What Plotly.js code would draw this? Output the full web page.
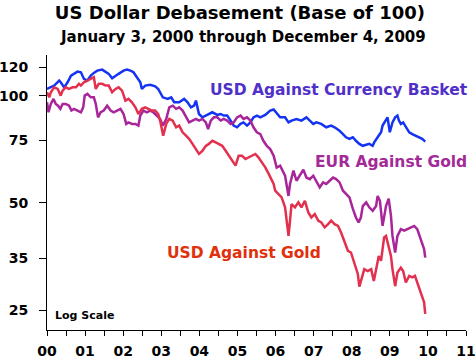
<!DOCTYPE html>
<html><head><meta charset="utf-8">
<script src="https://cdn.plot.ly/plotly-3.0.1.min.js"></script>
<style>html,body{margin:0;padding:0;background:#fff}</style>
</head><body><div id="chart" style="width:476px;height:360px"></div>
<script>
// Dates as decimal years
const basketX = [2000.00,2000.10,2000.19,2000.32,2000.36,2000.45,2000.54,2000.63,2000.71,2000.80,2000.89,2000.97,2001.06,2001.15,2001.23,2001.32,2001.45,2001.54,2001.62,2001.71,2001.80,2001.88,2002.01,2002.10,2002.19,2002.27,2002.36,2002.45,2002.49,2002.58,2002.71,2002.84,2002.92,2003.01,2003.04,2003.17,2003.26,2003.34,2003.47,2003.60,2003.69,2003.78,2003.86,2003.91,2003.99,2004.08,2004.17,2004.25,2004.34,2004.47,2004.56,2004.64,2004.73,2004.82,2004.90,2004.99,2005.08,2005.16,2005.25,2005.34,2005.42,2005.51,2005.60,2005.73,2005.86,2005.95,2006.06,2006.12,2006.25,2006.34,2006.42,2006.55,2006.68,2006.81,2006.90,2006.99,2007.07,2007.20,2007.33,2007.46,2007.55,2007.68,2007.77,2007.85,2007.94,2008.03,2008.11,2008.20,2008.29,2008.38,2008.46,2008.55,2008.59,2008.68,2008.77,2008.81,2008.90,2008.94,2009.00,2009.07,2009.14,2009.20,2009.24,2009.29,2009.35,2009.42,2009.51,2009.59,2009.68,2009.77,2009.85,2009.93];
const basketY = [104.4,105.5,106.7,110.2,109.0,105.5,109.0,113.8,115.1,116.8,116.3,111.4,110.2,113.8,115.8,117.5,118.3,116.8,115.1,111.8,113.8,115.1,117.5,118.3,117.5,116.3,112.6,109.0,104.4,106.7,107.2,106.2,104.4,100.5,98.9,97.9,98.9,95.8,95.8,97.9,95.8,92.7,93.7,96.8,88.8,86.9,87.9,88.8,89.8,88.3,88.8,87.9,87.9,85.1,82.4,81.5,83.3,84.1,82.4,84.1,86.9,87.9,86.9,88.3,90.8,91.4,88.8,86.9,86.9,84.1,85.1,86.0,85.1,86.9,85.1,83.3,84.1,83.3,81.5,82.4,81.5,79.7,78.0,76.4,75.6,76.4,74.7,73.2,72.3,72.7,73.2,72.3,73.9,76.4,78.9,82.4,86.0,86.9,78.9,84.1,86.9,87.9,85.1,83.3,84.1,81.5,78.9,78.0,77.2,76.4,75.6,74.3];

const eurX = [2000.00,2000.04,2000.10,2000.17,2000.23,2000.29,2000.35,2000.41,2000.49,2000.58,2000.64,2000.71,2000.80,2000.89,2000.95,2000.99,2001.06,2001.15,2001.23,2001.28,2001.34,2001.41,2001.49,2001.58,2001.67,2001.75,2001.84,2001.93,2002.01,2002.08,2002.14,2002.23,2002.32,2002.40,2002.45,2002.53,2002.62,2002.71,2002.79,2002.88,2002.97,2003.04,2003.13,2003.21,2003.30,2003.39,2003.47,2003.56,2003.65,2003.73,2003.82,2003.91,2003.99,2004.08,2004.17,2004.23,2004.30,2004.38,2004.47,2004.56,2004.64,2004.73,2004.82,2004.90,2004.99,2005.08,2005.16,2005.25,2005.34,2005.42,2005.51,2005.60,2005.68,2005.77,2005.86,2005.95,2006.03,2006.12,2006.25,2006.34,2006.38,2006.47,2006.55,2006.64,2006.73,2006.81,2006.90,2006.99,2007.07,2007.16,2007.25,2007.33,2007.42,2007.51,2007.59,2007.68,2007.77,2007.85,2007.94,2008.03,2008.11,2008.18,2008.24,2008.29,2008.38,2008.46,2008.55,2008.64,2008.68,2008.74,2008.81,2008.90,2008.97,2009.03,2009.07,2009.14,2009.20,2009.29,2009.38,2009.46,2009.55,2009.64,2009.72,2009.78,2009.85,2009.90,2009.93];
const eurY = [95.8,89.8,94.8,97.9,94.8,93.7,91.8,94.8,94.8,93.7,90.8,91.8,90.8,89.8,92.7,100.0,101.1,98.9,98.9,94.8,86.9,89.8,90.8,93.7,90.8,89.8,90.8,91.8,88.8,83.3,84.1,83.3,83.3,82.4,87.9,90.8,89.8,90.8,89.8,87.9,86.0,82.4,86.0,92.7,93.7,91.8,92.7,90.8,86.9,84.1,85.1,86.0,85.1,86.0,84.1,80.6,85.1,86.9,86.9,85.1,86.0,85.1,83.3,84.1,86.9,87.9,86.0,86.9,85.1,81.5,78.9,78.0,74.7,72.3,70.8,67.8,62.8,63.6,59.6,52.3,56.5,61.6,57.7,59.6,62.0,58.9,58.3,59.6,57.7,55.3,57.1,56.5,57.7,58.9,58.3,57.1,54.1,52.9,51.8,48.1,45.5,44.1,45.5,49.0,50.2,48.6,47.5,49.0,52.3,50.7,43.1,49.0,51.4,46.0,40.4,36.3,40.4,42.2,41.8,42.2,42.7,43.1,42.2,40.4,38.7,37.1,35.1];

const goldX = [2000.00,2000.06,2000.10,2000.19,2000.28,2000.36,2000.41,2000.49,2000.58,2000.67,2000.76,2000.84,2000.89,2000.97,2001.06,2001.15,2001.23,2001.28,2001.36,2001.45,2001.54,2001.62,2001.71,2001.80,2001.88,2001.97,2002.06,2002.14,2002.23,2002.32,2002.40,2002.49,2002.58,2002.66,2002.75,2002.84,2002.92,2002.98,2003.05,2003.13,2003.21,2003.30,2003.39,2003.47,2003.56,2003.65,2003.73,2003.82,2003.91,2003.99,2004.08,2004.17,2004.25,2004.34,2004.43,2004.51,2004.60,2004.69,2004.77,2004.86,2004.95,2005.03,2005.12,2005.21,2005.29,2005.38,2005.47,2005.55,2005.64,2005.73,2005.82,2005.95,2005.99,2006.08,2006.16,2006.25,2006.34,2006.38,2006.42,2006.51,2006.60,2006.68,2006.77,2006.86,2006.94,2007.03,2007.12,2007.20,2007.29,2007.38,2007.46,2007.55,2007.64,2007.72,2007.81,2007.90,2007.98,2008.07,2008.16,2008.20,2008.27,2008.33,2008.42,2008.51,2008.58,2008.64,2008.71,2008.77,2008.85,2008.90,2008.97,2009.03,2009.07,2009.14,2009.20,2009.29,2009.35,2009.42,2009.51,2009.59,2009.66,2009.72,2009.78,2009.83,2009.90,2009.93];
const goldY = [102.2,98.9,102.2,105.5,104.4,100.0,103.3,105.5,104.4,105.5,105.5,107.9,106.7,109.0,110.2,111.4,112.6,104.4,107.9,107.9,106.7,106.7,102.2,104.4,105.5,103.3,96.8,97.9,95.8,92.7,88.8,91.8,92.7,91.8,90.8,90.8,88.8,84.1,77.2,83.3,86.0,85.1,81.5,82.4,78.9,77.2,75.6,73.2,70.8,68.6,70.0,72.3,73.2,74.7,73.9,73.2,72.3,70.0,67.8,65.6,63.6,67.8,67.8,66.4,67.1,67.8,68.6,67.1,64.9,62.9,60.3,56.5,54.1,52.9,51.8,48.6,40.4,44.6,49.6,48.6,50.2,48.6,50.7,47.0,45.5,46.5,44.6,44.1,42.7,43.6,44.6,43.6,43.1,41.3,38.7,36.7,36.3,33.7,31.6,29.1,30.9,32.6,32.2,32.6,30.2,32.9,35.5,34.4,40.0,40.4,37.5,35.5,32.6,29.2,31.9,32.9,32.2,29.9,31.2,30.9,31.2,29.9,28.6,28.0,26.3,24.4];

const xTickVals = [2000,2000.5,2001,2001.5,2002,2002.5,2003,2003.5,2004,2004.5,2005,2005.5,2006,2006.5,2007,2007.5,2008,2008.5,2009,2009.5,2010,2010.5,2011];
const xTickText = ['00','','01','','02','','03','','04','','05','','06','','07','','08','','09','','10','','11'];
const yTickVals = [25,35,50,75,100,120];
const yTickText = ['25','35','50','75','100','120'];

const F = 'DejaVu Sans';
const traces = [
  {x: basketX, y: basketY, type:'scatter', mode:'lines', line:{color:'#1433f2', width:2.5}, name:'USD Against Currency Basket'},
  {x: eurX, y: eurY, type:'scatter', mode:'lines', line:{color:'#a8259a', width:2.5}, name:'EUR Against Gold'},
  {x: goldX, y: goldY, type:'scatter', mode:'lines', line:{color:'#e2304e', width:2.5}, name:'USD Against Gold'}
];
const layout = {
  width:476, height:360,
  margin:{l:47, r:10, t:55, b:30},
  paper_bgcolor:'#fff', plot_bgcolor:'#fff',
  showlegend:false,
  title:{text:'US Dollar Debasement (Base of 100)', font:{family:F, size:18, weight:'bold', color:'#000'}, x:0.504, xanchor:'center', y:0.966, yanchor:'middle'},
  xaxis:{range:[2000,2011], tickmode:'array', tickvals:xTickVals, ticktext:xTickText, ticks:'outside', ticklen:5, tickcolor:'#000', tickwidth:1,
    showline:true, linecolor:'#000', linewidth:1, showgrid:false, zeroline:false, ticklabelstandoff:3, ticklabeloverflow:'allow',
    tickfont:{family:F, size:14, weight:'bold', color:'#000'}},
  yaxis:{type:'log', range:[Math.log10(22), Math.log10(130)], tickmode:'array', tickvals:yTickVals, ticktext:yTickText, ticks:'outside', ticklen:7, tickcolor:'#000', tickwidth:1,
    showline:true, linecolor:'#000', linewidth:1, showgrid:false, zeroline:false, ticklabelstandoff:8,
    tickfont:{family:F, size:14, weight:'bold', color:'#000'}},
  annotations:[
    {text:'January 3, 2000 through December 4, 2009', xref:'paper', yref:'paper', x:0.468, y:1.065, xanchor:'center', yanchor:'middle', showarrow:false, font:{family:F, size:15, weight:'bold', color:'#000'}},
    {text:'USD Against Currency Basket', xref:'paper', yref:'paper', x:0.698, y:0.874, xanchor:'center', yanchor:'middle', showarrow:false, font:{family:F, size:15.5, weight:'bold', color:'#5030c8'}},
    {text:'EUR Against Gold', xref:'paper', yref:'paper', x:0.821, y:0.611, xanchor:'center', yanchor:'middle', showarrow:false, font:{family:F, size:15.5, weight:'bold', color:'#a32a97'}},
    {text:'USD Against Gold', xref:'paper', yref:'paper', x:0.469, y:0.28, xanchor:'center', yanchor:'middle', showarrow:false, font:{family:F, size:15.5, weight:'bold', color:'#e0300c'}},
    {text:'Log Scale', xref:'paper', yref:'paper', x:0.014, y:0.0545, xanchor:'left', yanchor:'middle', showarrow:false, font:{family:F, size:11, weight:'bold', color:'#000'}}
  ]
};
Plotly.newPlot('chart', traces, layout, {displayModeBar:false, staticPlot:true});
</script>
</body></html>
